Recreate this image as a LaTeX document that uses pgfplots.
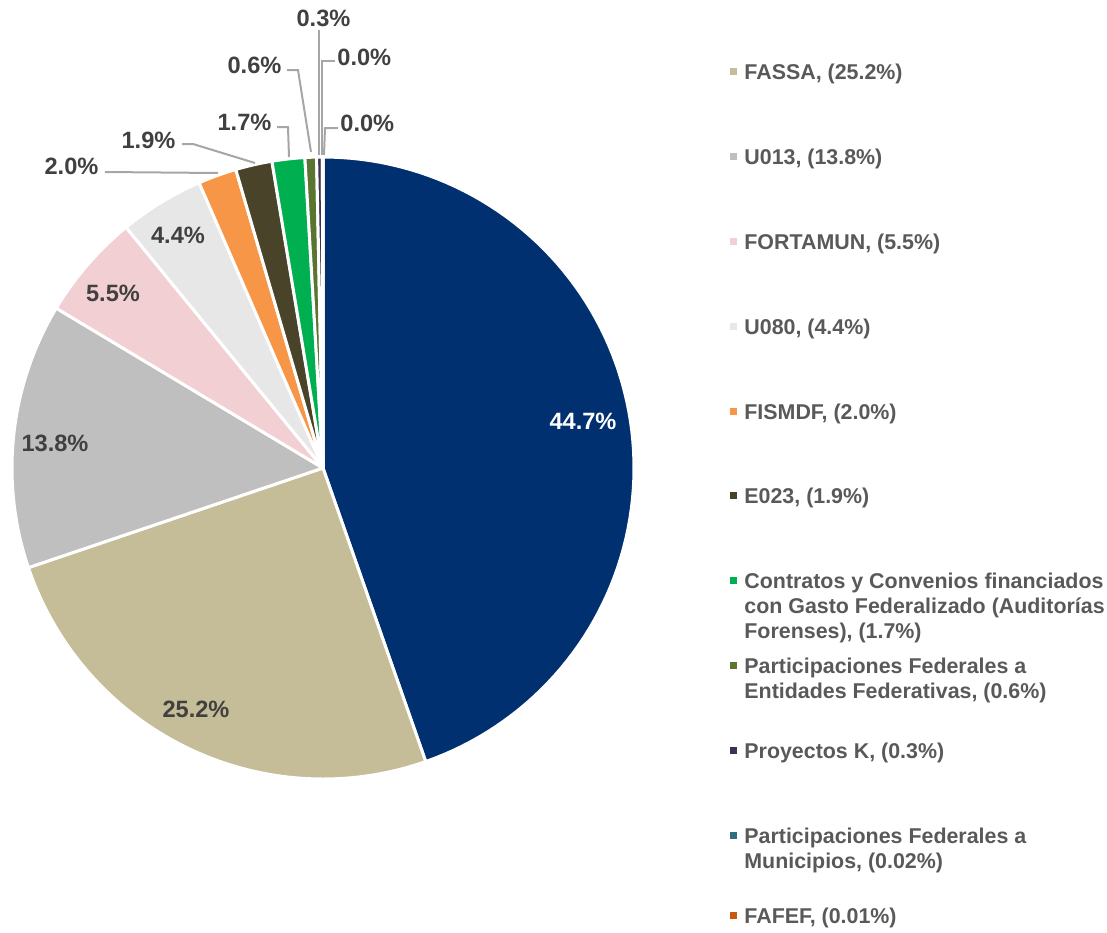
\documentclass[border=0pt]{standalone}
\usepackage{pgfplots}
\pgfplotsset{compat=1.18}
\usepackage{fontspec}
\setmainfont{Liberation Sans}

\definecolor{cNavy}{HTML}{00306F}
\definecolor{cTan}{HTML}{C4BD97}
\definecolor{cGray}{HTML}{BFBFBF}
\definecolor{cPink}{HTML}{F2CFD2}
\definecolor{cLight}{HTML}{E7E7E7}
\definecolor{cOrange}{HTML}{F79646}
\definecolor{cBrown}{HTML}{494429}
\definecolor{cGreen}{HTML}{00B050}
\definecolor{cOlive}{HTML}{5A7530}
\definecolor{cPurple}{HTML}{3F3151}
\definecolor{cTeal}{HTML}{2F6E80}
\definecolor{cRust}{HTML}{C55A11}
\definecolor{labtext}{HTML}{404040}
\definecolor{legtext}{HTML}{595959}
\definecolor{leader}{HTML}{A6A6A6}

\tikzset{
  lab/.style={font=\fontsize{11.8}{14}\selectfont\bfseries, text=labtext, inner sep=0pt},
  leg/.style={font=\fontsize{10.7}{12.5}\selectfont\bfseries, text=legtext, inner sep=0pt, anchor=base west}}

% total of the shares (rounded values), degrees per percent
\pgfmathsetmacro{\f}{360/100.13}
% pie centre and radius in picture pixels
\newcommand{\cx}{323}
\newcommand{\cy}{468}
\newcommand{\rr}{311}

% slice from cumulative share #1 to #2, clockwise from 12 o'clock
\newcommand{\slice}[3]{%
  \addplot[fill=#3, draw=white, line width=1.5pt, line join=round,
    domain={90-\f*#2}:{90-\f*#1}, samples=90, variable=\t]
    ({\cx+\rr*cos(\t)}, {\cy-\rr*sin(\t)}) -- (axis cs:\cx,\cy) -- cycle;}

\newcommand{\legent}[2]{\textcolor{#1}{\rule[2pt]{3.5pt}{3.5pt}}\hspace{3.5pt}%
  \begin{tabular}[t]{@{}l@{}}#2\end{tabular}}

\begin{document}
\begin{tikzpicture}
\begin{axis}[width=553.5pt, height=466pt, scale only axis,
  xmin=0, xmax=1107, ymin=0, ymax=932, y dir=reverse,
  hide axis, clip=false]
\path (axis cs:0,0) rectangle (axis cs:1107,932);

\slice{0}{44.7}{cNavy}
\slice{44.7}{69.9}{cTan}
\slice{69.9}{83.7}{cGray}
\slice{83.7}{89.2}{cPink}
\slice{89.2}{93.6}{cLight}
\slice{93.6}{95.6}{cOrange}
\slice{95.6}{97.5}{cBrown}
\slice{97.5}{99.2}{cGreen}
\slice{99.2}{99.8}{cOlive}
\slice{99.8}{100.1}{cPurple}
\slice{100.1}{100.12}{cTeal}
\slice{100.12}{100.13}{cRust}

% leader lines
\addplot[leader, line width=1pt] coordinates {(105,172) (218,173)};
\addplot[leader, line width=1pt] coordinates {(182,144) (193,144) (255,163)};
\addplot[leader, line width=1pt] coordinates {(277,127) (288,127) (289,157)};
\addplot[leader, line width=1pt] coordinates {(287,70) (298,70) (311,152)};
\addplot[leader, line width=1pt] coordinates {(319,30) (319,155)};
\addplot[leader, line width=1pt] coordinates {(335,61) (322,61) (322,155)};
\addplot[leader, line width=1pt] coordinates {(338,128) (325,128) (324,155)};

% data labels
\node[lab, text=white] at (axis cs:583,421) {44.7\%};
\node[lab] at (axis cs:196,709) {25.2\%};
\node[lab] at (axis cs:55,443) {13.8\%};
\node[lab] at (axis cs:113,293) {5.5\%};
\node[lab] at (axis cs:178,235) {4.4\%};
\node[lab] at (axis cs:71.5,166) {2.0\%};
\node[lab] at (axis cs:148.5,140) {1.9\%};
\node[lab] at (axis cs:244.5,122) {1.7\%};
\node[lab] at (axis cs:254.5,65) {0.6\%};
\node[lab] at (axis cs:323.5,18) {0.3\%};
\node[lab, anchor=west] at (axis cs:337,57) {0.0\%};
\node[lab, anchor=west] at (axis cs:340,123.5) {0.0\%};

% legend
\node[leg] at (axis cs:730,79) {\legent{cTan}{FASSA, (25.2\%)}};
\node[leg] at (axis cs:730,164) {\legent{cGray}{U013, (13.8\%)}};
\node[leg] at (axis cs:730,249) {\legent{cPink}{FORTAMUN, (5.5\%)}};
\node[leg] at (axis cs:730,334) {\legent{cLight}{U080, (4.4\%)}};
\node[leg] at (axis cs:730,419) {\legent{cOrange}{FISMDF, (2.0\%)}};
\node[leg] at (axis cs:730,503) {\legent{cBrown}{E023, (1.9\%)}};
\node[leg] at (axis cs:730,588) {\legent{cGreen}{Contratos y Convenios financiados\\con Gasto Federalizado (Auditorías\\Forenses), (1.7\%)}};
\node[leg] at (axis cs:730,673) {\legent{cOlive}{Participaciones Federales a\\Entidades Federativas, (0.6\%)}};
\node[leg] at (axis cs:730,758) {\legent{cPurple}{Proyectos K, (0.3\%)}};
\node[leg] at (axis cs:730,843) {\legent{cTeal}{Participaciones Federales a\\Municipios, (0.02\%)}};
\node[leg] at (axis cs:730,923) {\legent{cRust}{FAFEF, (0.01\%)}};
\end{axis}
\end{tikzpicture}
\end{document}
